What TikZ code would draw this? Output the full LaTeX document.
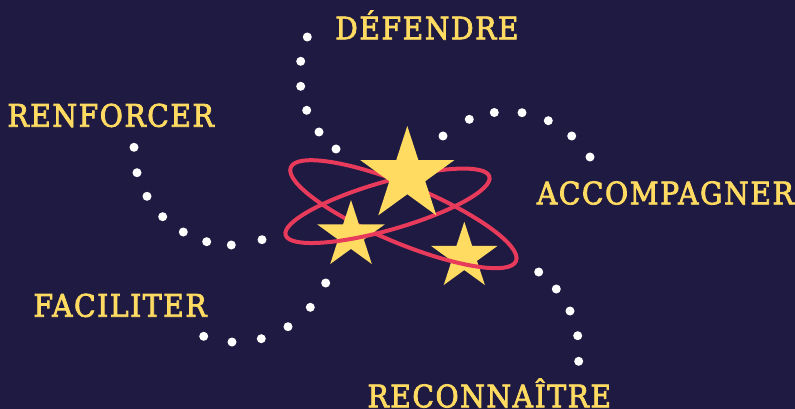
\documentclass[tikz,border=0pt]{standalone}
\usepackage{fontspec}
\usetikzlibrary{shapes.geometric}
\newfontfamily\verbfont{DejaVu Serif}[FakeStretch=0.91,LetterSpace=5,FakeBold=2.5]
\definecolor{nightbg}{HTML}{1E1A42}
\definecolor{staryellow}{HTML}{FFDB62}
\definecolor{orbitred}{HTML}{E83A5A}

\tikzset{
  verb/.style={anchor=base west,inner sep=0pt,text=staryellow,
    font=\verbfont\fontsize{31}{34}\selectfont},
  starshape/.style={star,star points=5,star point ratio=2.618,
    fill=staryellow,draw=none,inner sep=0pt,minimum size=#1},
  orbit/.style={ellipse,draw=orbitred,line width=4pt,inner sep=0pt,fill=none},
  dotpt/.style={fill=white}
}

\begin{document}
\begin{tikzpicture}[x=1pt,y=-1pt]
  \fill[nightbg] (0,0) rectangle (795,409);
  \useasboundingbox (0,0) rectangle (795,409);

  % dotted trails
  \foreach \p in {(307.3,37),(300.7,61.3),(300.7,86.3),(306.7,110.3),(319,132),(336,149),
                  (443,136),(469.3,119.3),(494.3,112.5),(522,112.7),(548.3,120.7),(571.7,136),(590,157),
                  (134,147.3),(137,172.7),(147,196.3),(162.7,216.7),(183.3,232),(206.7,241.7),(231.3,245),(262,239.7),
                  (325.7,283),(310.3,307.3),(288,326.7),(261.3,338.7),(232,342),(203.7,336.3),
                  (538.7,272),(556.3,289),(570,311),(577.7,335.7),(578.7,361.3)}
    \fill[dotpt] \p circle (4.5);

  % stars and orbits
  \node[starshape=70pt] (starright) at (464.3,256.7) {};
  \node[orbit,minimum width=244pt,minimum height=58pt,rotate=-22.6] (orbitA) at (403.4,214.2) {};
  \node[starshape=70.8pt] (starleft) at (351,235.4) {};
  \node[orbit,minimum width=212pt,minimum height=48pt,rotate=16] (orbitB) at (387.5,205.8) {};
  \node[starshape=98.8pt] (starbig) at (407.3,175.4) {};

  % labels
  \node[verb] (defendre) at (335,39.3) {DÉFENDRE};
  \node[verb] (renforcer) at (7.3,126.7) {RENFORCER};
  \node[verb] (accompagner) at (536.7,204.3) {ACCOMPAGNER};
  \node[verb] (faciliter) at (33.3,316.7) {FACILITER};
  \node[verb] (reconnaitre) at (367.3,407.3) {RECONNAÎTRE};
\end{tikzpicture}
\end{document}
